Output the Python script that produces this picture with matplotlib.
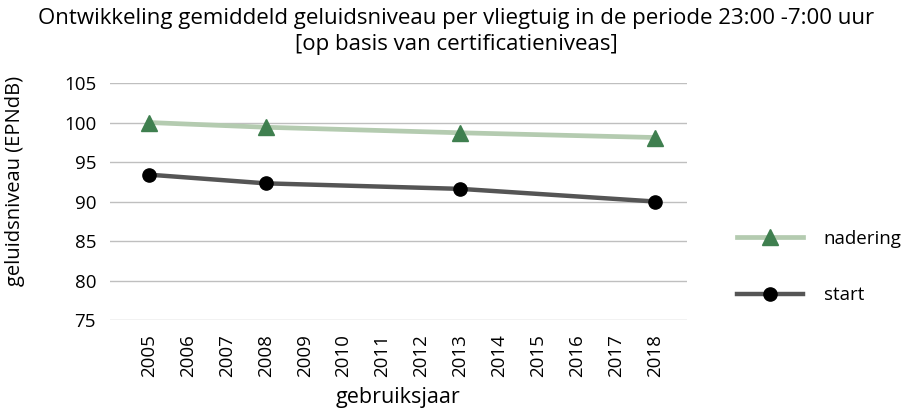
import numpy as np
from matplotlib import pyplot as plt

plt.rcParams['font.family'] = ['Open Sans', 'DejaVu Sans']

years = list(range(2005, 2019))
meet_jaren = [2005, 2008, 2013, 2018]
nadering = [100.0, 99.4, 98.7, 98.1]
start = [93.4, 92.3, 91.6, 90.0]
y_ticks = [75, 80, 85, 90, 95, 100, 105]


def plot_chart():
    fig = plt.figure(figsize=(9.12, 4.11), dpi=100)
    ax = fig.add_axes([0.1206, 0.2214, 0.6327, 0.5766])

    ax.plot(meet_jaren, nadering, color='#b4cbb0', linewidth=3.4,
            marker='^', markersize=11, markerfacecolor='#3f7f4f',
            markeredgecolor='#3f7f4f', label='nadering', zorder=3)
    ax.plot(meet_jaren, start, color='#555555', linewidth=3.2,
            marker='o', markersize=9.5, markerfacecolor='black',
            markeredgecolor='black', label='start', zorder=3)

    ax.set_xlim(2004.0, 2018.82)
    ax.set_ylim(75, 105)
    ax.set_yticks(y_ticks)
    ax.set_xticks(years)
    ax.set_xticklabels([str(y) for y in years], rotation=90)
    ax.tick_params(axis='both', length=0, labelsize=13.5)
    ax.tick_params(axis='x', pad=10)
    ax.tick_params(axis='y', pad=10)
    for s in ax.spines.values():
        s.set_visible(False)
    ax.yaxis.grid(True, color='#bfbfbf', linewidth=1)
    ax.set_axisbelow(True)

    ax.set_xlabel('gebruiksjaar', fontsize=15.5, va='center')
    ax.xaxis.set_label_coords(0.5, -0.325)
    ax.set_ylabel('geluidsniveau (EPNdB)', fontsize=14.5, va='center')
    ax.yaxis.set_label_coords(-0.165, 0.587)
    fig.text(0.5, 1 - 8 / 411,
             'Ontwikkeling gemiddeld geluidsniveau per vliegtuig in de periode 23:00 -7:00 uur\n'
             '[op basis van certificatieniveas]', fontsize=16, ha='center', va='top',
             linespacing=1.3)

    fig.legend(loc='center left', bbox_to_anchor=(0.79, 0.35), frameon=False,
               fontsize=13.5, handlelength=3.5, handletextpad=1.1, labelspacing=2.05)

    fig.savefig('out.png', dpi=100)


if __name__ == '__main__':
    plot_chart()
